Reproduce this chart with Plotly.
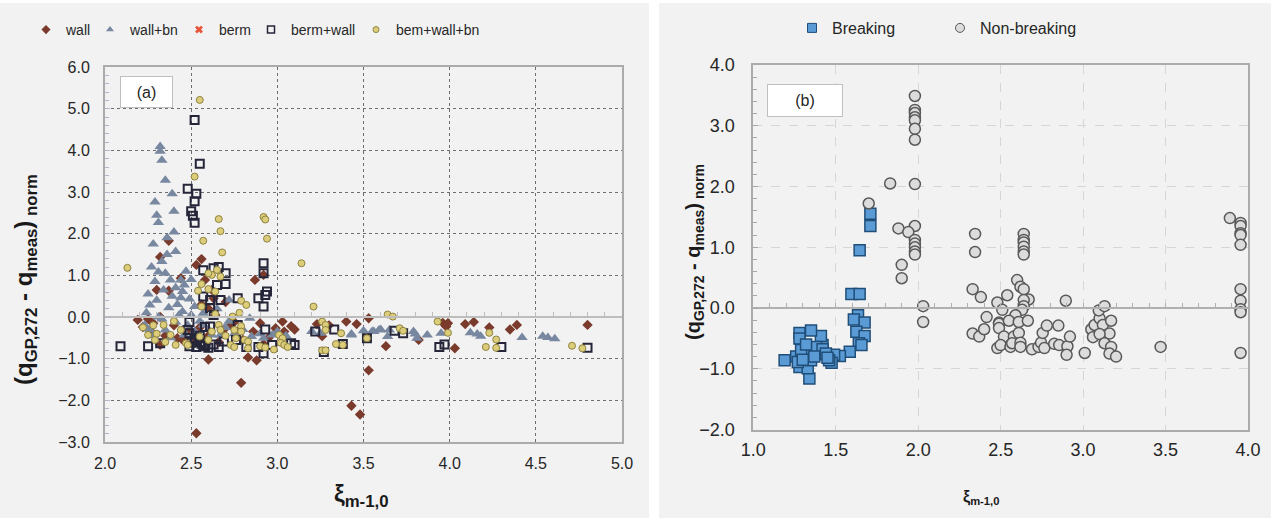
import plotly.graph_objects as go

W, H = 1274, 521
FONT = "Liberation Sans, Arial, sans-serif"

# ---------------- data: panel (a) ----------------
wall_pts = [
    (2.19, -0.07), (2.22, -0.24), (2.27, -0.36), (2.30, 0.65), (2.32, 0.00), (2.32, -0.67),
    (2.32, 1.44), (2.37, 1.83), (2.37, 0.63), (2.42, -0.51), (2.44, 0.93), (2.53, 1.25),
    (2.49, -0.31), (2.56, 1.39), (2.52, -0.60), (2.58, 0.89), (2.62, 0.65), (2.64, 0.05),
    (2.70, 0.36), (2.73, -0.19), (2.78, -0.31), (2.60, -1.02), (2.79, -1.58), (2.53, -2.79),
    (2.83, -0.97), (2.88, -1.04), (2.87, 0.89), (2.92, 1.01), (3.03, -0.11), (3.08, -0.22),
    (3.04, -0.35), (2.99, -0.27), (3.23, -0.17), (3.40, -0.11), (3.46, -0.17), (3.26, -0.46),
    (3.53, -0.03), (3.63, -0.70), (3.53, -1.28), (3.43, -2.13), (3.48, -2.34), (3.96, -0.14),
    (3.99, -0.15), (3.98, -0.23), (4.09, -0.17), (4.14, -0.12), (4.23, -0.25), (4.03, -0.75),
    (3.82, -0.55), (4.35, -0.30), (4.39, -0.19), (4.80, -0.19), (2.25, -0.05), (2.28, -0.15),
    (2.35, -0.45), (2.40, -0.20), (2.45, -0.55), (2.55, -0.25), (2.60, -0.45), (2.66, -0.60),
    (2.69, -0.30), (2.75, -0.12), (2.80, -0.55), (2.86, -0.35), (2.90, -0.15), (2.60, 0.20),
    (2.63, 0.45), (2.56, 0.30), (2.95, -0.50), (3.10, -0.30), (3.30, -0.20), (2.92, -0.65),
]
wallbn_pts = [
    (2.32, 4.09), (2.32, 3.98), (2.33, 3.76), (2.35, 3.28), (2.39, 2.96), (2.29, 2.76),
    (2.40, 2.54), (2.30, 2.44), (2.31, 2.27), (2.40, 2.04), (2.41, 1.57), (2.33, 1.33),
    (2.31, 1.08), (2.38, 0.89), (2.34, 0.65), (2.41, 0.70), (2.46, 0.77), (2.44, 0.46),
    (2.26, 0.29), (2.37, 0.22), (2.31, 0.00), (2.23, -0.19), (2.35, -0.31), (2.41, -0.12),
    (2.46, -0.43), (2.44, 0.89), (2.45, 0.61), (2.49, 0.43), (2.52, 0.25), (2.45, 0.13),
    (2.57, 0.09), (2.72, 0.41), (2.84, -0.03), (2.57, -0.19), (2.62, -0.43), (2.67, -0.43),
    (2.85, -0.47), (2.92, -0.51), (2.97, -0.43), (2.45, -0.31), (3.20, -0.35), (3.25, -0.39),
    (3.43, -0.43), (3.50, -0.33), (3.55, -0.35), (3.59, -0.31), (3.43, -0.41), (3.56, -0.35),
    (3.60, -0.30), (3.65, -0.31), (3.64, -0.47), (3.79, -0.35), (3.80, -0.41), (3.81, -0.51),
    (3.87, -0.43), (3.95, -0.39), (4.12, -0.38), (4.16, -0.41), (4.18, -0.46), (4.42, -0.49),
    (4.54, -0.46), (4.57, -0.49), (4.61, -0.52), (2.28, 1.75), (2.36, 1.90), (2.27, 1.20),
    (2.35, 1.05), (2.25, 0.55), (2.30, 0.40), (2.42, 0.30), (2.50, 0.05), (2.55, -0.10),
    (2.28, -0.45), (2.38, -0.50), (2.52, -0.35), (2.60, -0.30), (2.70, -0.25), (2.75, -0.40),
    (2.80, -0.30), (2.90, -0.40), (3.00, -0.35), (3.05, -0.45), (2.65, 0.20), (2.72, -0.10),
    (2.47, 1.10), (2.50, 0.90), (2.24, 0.10), (2.29, 0.85), (2.36, 1.50), (2.43, 0.05),
    (2.48, -0.20), (2.33, -0.05), (2.26, -0.30), (2.39, 0.50),
]
berm_pts = []
bermwall_pts = [
    (2.52, 4.73), (2.55, 3.68), (2.48, 3.08), (2.53, 2.96), (2.52, 2.78), (2.50, 2.54),
    (2.51, 2.43), (2.52, 2.26), (2.92, 1.29), (2.92, 1.05), (2.94, 0.61), (2.93, 0.53),
    (2.89, 0.45), (2.92, 0.25), (2.57, 1.12), (2.63, 1.17), (2.66, 1.20), (2.70, 1.05),
    (2.65, 0.77), (2.70, 0.79), (2.57, 0.49), (2.61, 0.41), (2.67, 0.41), (2.77, 0.45),
    (2.61, 0.21), (2.63, 0.05), (2.77, -0.19), (2.93, -0.30), (2.61, -0.23), (2.49, -0.39),
    (2.52, -0.55), (2.57, -0.67), (2.69, -0.59), (2.76, -0.55), (2.82, -0.72), (2.89, -0.72),
    (2.92, -0.87), (2.97, -0.67), (3.10, -0.67), (3.08, -0.63), (3.22, -0.35), (3.33, -0.30),
    (3.27, -0.84), (3.38, -0.65), (3.68, -0.33), (3.73, -0.39), (3.52, -0.51), (3.94, -0.72),
    (3.97, -0.66), (4.30, -0.72), (4.80, -0.74), (2.25, -0.70), (2.32, -0.63), (2.49, -0.70),
    (2.55, -0.60), (2.58, -0.70), (2.52, -0.51), (2.48, -0.31), (2.58, -0.24), (2.49, -0.12),
    (2.09, -0.70), (2.53, -0.72), (2.56, -0.64), (2.60, -0.74), (2.63, -0.66), (2.66, -0.72),
    (2.50, -0.62), (2.55, -0.45),
]
bemwallbn_pts = [
    (2.55, 5.21), (2.52, 3.37), (2.66, 2.35), (2.67, 2.06), (2.57, 1.83), (2.92, 2.40),
    (2.93, 2.34), (2.94, 1.88), (2.68, 1.55), (2.13, 1.18), (2.25, -0.43), (2.29, -0.55),
    (2.38, -0.43), (2.41, -0.67), (2.44, -0.31), (2.34, -0.19), (2.62, 1.01), (2.65, 1.13),
    (2.67, 0.97), (2.56, 0.79), (2.60, 0.67), (2.54, 0.63), (2.64, 0.61), (2.79, 0.39),
    (2.82, 0.29), (2.64, 0.07), (2.78, 0.10), (2.74, 0.01), (2.66, -0.19), (2.67, -0.31),
    (2.75, -0.31), (2.79, -0.22), (2.79, -0.35), (2.76, -0.51), (2.81, -0.55), (2.83, -0.59),
    (2.73, -0.67), (2.75, -0.72), (2.83, -0.75), (2.90, -0.70), (2.93, -0.73), (2.98, -0.78),
    (3.01, -0.43), (3.03, -0.51), (3.02, -0.62), (3.04, -0.67), (3.06, -0.72), (2.55, -0.47),
    (2.47, -0.63), (2.48, -0.67), (3.14, 1.29), (3.21, 0.25), (3.26, -0.11), (3.28, -0.19),
    (3.28, -0.31), (3.37, -0.39), (3.34, -0.65), (3.38, -0.67), (3.26, -0.80), (3.28, -0.80),
    (3.52, -0.51), (3.64, 0.06), (3.67, 0.01), (3.93, -0.11), (3.71, -0.27), (3.73, -0.33),
    (3.99, -0.38), (4.23, -0.38), (4.27, -0.54), (4.21, -0.72), (4.27, -0.74), (4.71, -0.69),
    (4.77, -0.75), (2.30, -0.40), (2.22, -0.25), (2.35, -0.60), (2.60, -0.55), (2.62, -0.35),
    (2.70, -0.45), (2.60, 1.05), (2.40, -0.10), (2.28, -0.20), (2.56, 0.25),
]

# ---------------- data: panel (b) ----------------
breaking_pts = [
    (1.645, 0.95), (1.71, 1.55), (1.71, 1.35), (1.595, 0.23), (1.645, 0.23), (1.635, -0.12),
    (1.61, -0.19), (1.675, -0.24), (1.625, -0.39), (1.675, -0.46), (1.64, -0.58), (1.656, -0.61),
    (1.585, -0.72), (1.525, -0.79), (1.49, -0.77), (1.475, -0.90), (1.42, -0.61), (1.41, -0.46),
    (1.35, -0.37), (1.28, -0.41), (1.28, -0.50), (1.41, -0.76), (1.35, -0.72), (1.31, -0.77),
    (1.26, -0.80), (1.19, -0.86), (1.28, -0.97), (1.34, -1.16), (1.33, -0.99), (1.46, -0.86),
    (1.29, -0.69), (1.38, -0.64), (1.42, -0.68), (1.35, -0.86), (1.27, -0.89), (1.44, -0.75),
    (1.30, -0.85), (1.37, -0.80), (1.45, -0.82), (1.32, -0.60),
]
nonbreaking_pts = [
    (1.98, 3.49), (1.98, 3.26), (1.98, 3.21), (1.98, 3.14), (1.98, 3.09), (1.98, 2.95),
    (1.98, 2.77), (1.83, 2.05), (1.98, 2.04), (1.70, 1.72), (1.98, 1.35), (1.88, 1.31),
    (1.94, 1.25), (1.98, 1.12), (1.98, 1.06), (1.98, 1.00), (1.98, 0.93), (1.98, 0.88),
    (1.90, 0.71), (1.90, 0.49), (2.03, 0.03), (2.03, -0.23), (2.345, 1.22), (2.345, 0.92),
    (2.64, 1.22), (2.64, 1.12), (2.64, 1.08), (2.64, 1.01), (2.64, 0.93), (2.64, 0.88),
    (2.33, 0.31), (2.38, 0.18), (2.48, 0.09), (2.54, 0.21), (2.60, 0.46), (2.62, 0.35),
    (2.64, 0.31), (2.67, 0.14), (2.64, 0.13), (2.64, 0.03), (2.63, -0.03), (2.51, -0.03),
    (2.415, -0.15), (2.59, -0.12), (2.33, -0.42), (2.37, -0.47), (2.40, -0.35), (2.49, -0.24),
    (2.49, -0.26), (2.55, -0.21), (2.61, -0.23), (2.665, -0.21), (2.49, -0.33), (2.52, -0.47),
    (2.58, -0.47), (2.61, -0.41), (2.48, -0.66), (2.50, -0.61), (2.56, -0.64), (2.57, -0.58),
    (2.62, -0.57), (2.62, -0.64), (2.69, -0.68), (2.73, -0.64), (2.745, -0.57), (2.765, -0.66),
    (2.755, -0.41), (2.78, -0.29), (2.85, -0.29), (2.895, 0.12), (2.825, -0.59), (2.855, -0.61),
    (2.905, -0.63), (2.92, -0.47), (2.90, -0.77), (3.01, -0.74), (3.05, -0.35), (3.06, -0.48),
    (3.07, -0.28), (3.10, -0.17), (3.095, -0.04), (3.13, 0.03), (3.12, -0.28), (3.17, -0.21),
    (3.16, -0.42), (3.10, -0.43), (3.13, -0.58), (3.17, -0.64), (3.16, -0.75), (3.20, -0.80),
    (3.47, -0.64), (3.89, 1.48), (3.955, 1.40), (3.955, 1.35), (3.955, 1.23), (3.955, 1.20),
    (3.955, 1.04), (3.955, 0.31), (3.955, 0.12), (3.955, -0.02), (3.955, -0.07), (3.955, -0.74),
]

left_xticks = [2.0, 2.5, 3.0, 3.5, 4.0, 4.5, 5.0]
left_yticks = [-3.0, -2.0, -1.0, 0.0, 1.0, 2.0, 3.0, 4.0, 5.0, 6.0]
right_xticks = [1.0, 1.5, 2.0, 2.5, 3.0, 3.5, 4.0]
right_yticks = [-2.0, -1.0, 0.0, 1.0, 2.0, 3.0, 4.0]


def xs(pts):
    return [p[0] for p in pts] if pts else [None]


def ys(pts):
    return [p[1] for p in pts] if pts else [None]


def fx(p):
    return p / W


def fy(p):
    return 1 - p / H


fig = go.Figure()

# ---- panel (a) traces ----
C_WALL = "#7A3B2C"
C_WALLBN = "#7888A0"
C_BERM = "#E8553A"
C_BW = "#26263A"
C_BWB_F = "#DCCD7A"
C_BWB_L = "#8F8240"

fig.add_trace(go.Scatter(x=xs(wall_pts), y=ys(wall_pts), mode="markers", name="wall",
                         marker=dict(symbol="diamond", size=8, color=C_WALL, line=dict(width=0)),
                         showlegend=False, xaxis="x", yaxis="y"))
fig.add_trace(go.Scatter(x=xs(wallbn_pts), y=ys(wallbn_pts), mode="markers", name="wall+bn",
                         marker=dict(symbol="triangle-up", size=10, color=C_WALLBN, line=dict(width=0)),
                         showlegend=False, xaxis="x", yaxis="y"))
fig.add_trace(go.Scatter(x=xs(berm_pts), y=ys(berm_pts), mode="markers", name="berm",
                         marker=dict(symbol="x", size=8, color=C_BERM, line=dict(width=0)),
                         showlegend=False, xaxis="x", yaxis="y"))
fig.add_trace(go.Scatter(x=xs(bermwall_pts), y=ys(bermwall_pts), mode="markers", name="berm+wall",
                         marker=dict(symbol="square", size=8, color="rgba(255,255,255,0)",
                                     line=dict(width=2, color=C_BW)),
                         showlegend=False, xaxis="x", yaxis="y"))
fig.add_trace(go.Scatter(x=xs(bemwallbn_pts), y=ys(bemwallbn_pts), mode="markers", name="bem+wall+bn",
                         marker=dict(symbol="circle", size=7, color=C_BWB_F,
                                     line=dict(width=1, color=C_BWB_L)),
                         showlegend=False, xaxis="x", yaxis="y"))

# legend-only entries (one small legend per entry, placed like the reference)
leg_a = [
    ("wall", "legend", 26, dict(symbol="diamond", size=7, color=C_WALL, line=dict(width=0))),
    ("wall+bn", "legend3", 90, dict(symbol="triangle-up", size=7, color=C_WALLBN, line=dict(width=0))),
    ("berm", "legend4", 179, dict(symbol="x", size=7, color=C_BERM, line=dict(width=0))),
    ("berm+wall", "legend5", 251, dict(symbol="square", size=7, color="rgba(255,255,255,0)",
                                       line=dict(width=1.5, color=C_BW))),
    ("bem+wall+bn", "legend6", 356, dict(symbol="circle", size=6, color=C_BWB_F,
                                         line=dict(width=1, color=C_BWB_L))),
]
for nm, lg, _, mk in leg_a:
    fig.add_trace(go.Scatter(x=[None], y=[None], mode="markers", name=nm, marker=mk,
                             legend=lg, xaxis="x", yaxis="y", hoverinfo="skip"))

# ---- panel (b) traces ----
C_BR_F = "#5B9BD5"
C_BR_L = "#1F4E79"
C_NB_F = "#DCDCDC"
C_NB_L = "#595959"
fig.add_trace(go.Scatter(x=xs(breaking_pts), y=ys(breaking_pts), mode="markers", name="Breaking",
                         marker=dict(symbol="square", size=11, color=C_BR_F, line=dict(width=1.5, color=C_BR_L)),
                         showlegend=False, xaxis="x2", yaxis="y2"))
fig.add_trace(go.Scatter(x=xs(nonbreaking_pts), y=ys(nonbreaking_pts), mode="markers", name="Non-breaking",
                         marker=dict(symbol="circle", size=11, color=C_NB_F, line=dict(width=1.5, color=C_NB_L)),
                         showlegend=False, xaxis="x2", yaxis="y2"))
leg_b = [
    ("Breaking", "legend2", 792, dict(symbol="square", size=9, color=C_BR_F, line=dict(width=1, color=C_BR_L))),
    ("Non-breaking", "legend7", 940, dict(symbol="circle", size=9, color=C_NB_F, line=dict(width=1, color=C_NB_L))),
]
for nm, lg, _, mk in leg_b:
    fig.add_trace(go.Scatter(x=[None], y=[None], mode="markers", name=nm, marker=mk,
                             legend=lg, xaxis="x2", yaxis="y2", hoverinfo="skip"))

# dummy traces so the zero-crossing axes get drawn
fig.add_trace(go.Scatter(x=[None], y=[None], xaxis="x3", yaxis="y", showlegend=False, hoverinfo="skip"))
fig.add_trace(go.Scatter(x=[None], y=[None], xaxis="x4", yaxis="y2", showlegend=False, hoverinfo="skip"))

tick_col = "#262626"
axis_line = "#ABABAB"

legends = {}
for nm, lg, xp, _ in leg_a:
    legends[lg] = dict(orientation="h", x=fx(xp), xanchor="left", y=fy(30), yanchor="middle",
                       font=dict(size=14, color=tick_col, family=FONT), bgcolor="rgba(0,0,0,0)",
                       borderwidth=0, itemclick=False, itemdoubleclick=False)
for nm, lg, xp, _ in leg_b:
    legends[lg] = dict(orientation="h", x=fx(xp), xanchor="left", y=fy(28), yanchor="middle",
                       font=dict(size=16, color=tick_col, family=FONT), bgcolor="rgba(0,0,0,0)",
                       borderwidth=0, itemclick=False, itemdoubleclick=False)

fig.update_layout(
    width=W, height=H,
    margin=dict(l=0, r=0, t=0, b=0, autoexpand=False),
    paper_bgcolor="white",
    plot_bgcolor="white",
    font=dict(family=FONT, color=tick_col),
    xaxis=dict(domain=[fx(105), fx(622)], range=[2, 5], tickvals=left_xticks, tickformat=".1f",
               showgrid=True, gridcolor="#6E6E6E", griddash="dot", gridwidth=1,
               showline=True, linecolor=axis_line, linewidth=2, mirror=True, ticks="",
               zeroline=False, tickfont=dict(size=16, color=tick_col), ticklabelstandoff=6,
               anchor="y", automargin=False),
    yaxis=dict(domain=[fy(442), fy(67)], range=[-3, 6], tickvals=left_yticks, tickformat=".1f",
               showgrid=True, gridcolor="#6E6E6E", griddash="dot", gridwidth=1,
               showline=True, linecolor=axis_line, linewidth=2, mirror=True,
               ticks="inside", ticklen=5, tickcolor="#B4B4CC",
               minor=dict(dtick=0.2, ticks="inside", ticklen=4, tickcolor="#B4B4CC", showgrid=False),
               zeroline=False, tickfont=dict(size=16, color=tick_col), ticklabelstandoff=10,
               anchor="x", automargin=False),
    xaxis3=dict(overlaying="x", anchor="free", position=fy(317), range=[2, 5], dtick=0.5,
                showline=True, linecolor="#BDBDBD", linewidth=2, ticks="inside", ticklen=4,
                tickcolor="#BDBDBD", minor=dict(dtick=0.1, ticks="inside", ticklen=4, tickcolor="#BDBDBD"),
                showticklabels=False, showgrid=False, zeroline=False, automargin=False),
    xaxis2=dict(domain=[fx(753.3), fx(1248)], range=[1, 4], tickvals=right_xticks, tickformat=".1f",
                showgrid=True, gridcolor="#D6D6D6", griddash="dash", gridwidth=1,
                showline=True, linecolor=axis_line, linewidth=2, mirror=True, ticks="",
                zeroline=False, tickfont=dict(size=18, color=tick_col), ticklabelstandoff=3,
                anchor="y2", automargin=False),
    yaxis2=dict(domain=[fy(429.5), fy(65)], range=[-2, 4], tickvals=right_yticks, tickformat=".1f",
                showgrid=True, gridcolor="#D6D6D6", griddash="dash", gridwidth=1,
                showline=True, linecolor=axis_line, linewidth=2, mirror=True,
                ticks="inside", ticklen=5, tickcolor="#A6A6A6",
                minor=dict(dtick=0.2, ticks="inside", ticklen=4, tickcolor="#A6A6A6", showgrid=False),
                zeroline=False, tickfont=dict(size=18, color=tick_col), ticklabelstandoff=13,
                anchor="x2", automargin=False),
    xaxis4=dict(overlaying="x2", anchor="free", position=fy(308), range=[1, 4], dtick=0.5,
                showline=True, linecolor="#B0B0B0", linewidth=2, ticks="inside", ticklen=4,
                tickcolor="#B0B0B0", minor=dict(dtick=0.1, ticks="inside", ticklen=4, tickcolor="#B0B0B0"),
                showticklabels=False, showgrid=False, zeroline=False, automargin=False),
    shapes=[
        dict(type="rect", xref="paper", yref="paper", x0=0, x1=fx(649), y0=fy(518), y1=fy(3),
             fillcolor="#F2F2F2", line=dict(width=0), layer="below"),
        dict(type="rect", xref="paper", yref="paper", x0=fx(659), x1=fx(1271), y0=fy(518), y1=fy(3),
             fillcolor="#F2F2F2", line=dict(width=0), layer="below"),
    ],
    annotations=[
        dict(text="(a)", xref="paper", yref="paper", x=fx(120), y=fy(76), xanchor="left", yanchor="top",
             showarrow=False, width=51, height=30, bgcolor="white", bordercolor="#BFBFBF", borderwidth=1,
             borderpad=0, font=dict(size=16, color=tick_col)),
        dict(text="(b)", xref="paper", yref="paper", x=fx(767), y=fy(84), xanchor="left", yanchor="top",
             showarrow=False, width=74, height=31, bgcolor="white", bordercolor="#BFBFBF", borderwidth=1,
             borderpad=0, font=dict(size=16, color=tick_col)),
        dict(text="<b>(q<sub>GP,272</sub> - q<sub>meas</sub>)<sub> norm</sub></b>", xref="paper", yref="paper",
             x=fx(25), y=fy(280), xanchor="center", yanchor="middle", textangle=-90, showarrow=False,
             font=dict(size=24, color="#1A1A1A")),
        dict(text="<b>(q<sub>GP,272</sub> - q<sub>meas</sub>)<sub> norm</sub></b>", xref="paper", yref="paper",
             x=fx(694), y=fy(252), xanchor="center", yanchor="middle", textangle=-90, showarrow=False,
             font=dict(size=20, color="#1A1A1A")),
        dict(text="<b>ξ<sub>m-1,0</sub></b>", xref="paper", yref="paper", x=fx(362), y=fy(495),
             xanchor="center", yanchor="middle", showarrow=False, font=dict(size=24, color="#1A1A1A")),
        dict(text="<b>ξ<sub>m-1,0</sub></b>", xref="paper", yref="paper", x=fx(981), y=fy(497),
             xanchor="center", yanchor="middle", showarrow=False, font=dict(size=16, color="#1A1A1A")),
    ],
    **legends,
)

fig.write_html("out.html")
